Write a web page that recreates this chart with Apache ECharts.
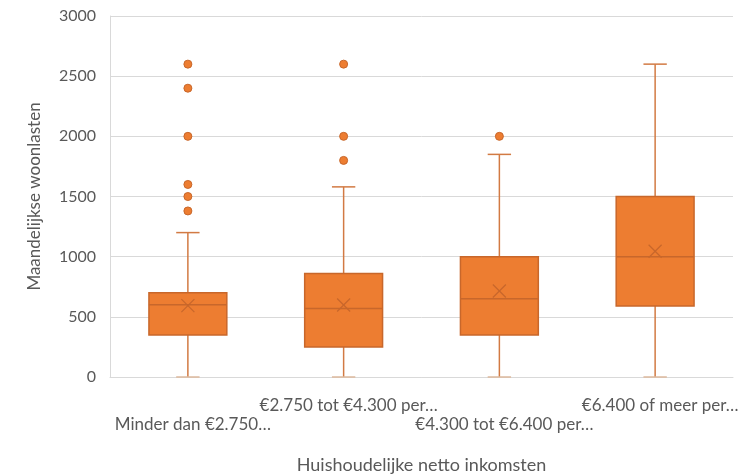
<!DOCTYPE html>
<html>
<head>
<meta charset="utf-8">
<script src="https://cdn.jsdelivr.net/npm/echarts@6/dist/echarts.min.js"></script>
<style>html,body{margin:0;padding:0;background:#fff;}#chart{width:756px;height:475px;}</style>
</head>
<body>
<div id="chart"></div>
<script>
const categories = ['Minder dan €2.750…', '€2.750 tot €4.300 per…', '€4.300 tot €6.400 per…', '€6.400 of meer per…'];
const minVals = [0, 0, 0, 0];
const q1Vals = [350, 250, 350, 590];
const medianVals = [600, 570, 650, 1000];
const q3Vals = [700, 860, 1000, 1500];
const maxVals = [1200, 1580, 1850, 2600];
const meanVals = [593, 598, 715, 1045];
const outliersByCategory = [
  [2600, 2400, 2000, 1600, 1500, 1380],
  [2600, 2000, 1800],
  [2000],
  []
];
const yTicks = { min: 0, max: 3000, interval: 500 };

const FILL = '#ED7D31';
const EDGE = '#C8672B';
const WHISK = '#D27A43';
const FONT = 'Lato';

const boxData = categories.map((c, i) => [i, minVals[i], q1Vals[i], medianVals[i], q3Vals[i], maxVals[i], meanVals[i]]);
const outlierData = [];
outliersByCategory.forEach((arr, i) => arr.forEach(v => outlierData.push([i, v])));

function renderBox(params, api) {
  const i = api.value(0);
  const band = api.size([1, 0])[0];
  const bw = band * 0.5;
  const cw = band * 0.15;
  const pMin = api.coord([i, api.value(1)]);
  const pQ1 = api.coord([i, api.value(2)]);
  const pMed = api.coord([i, api.value(3)]);
  const pQ3 = api.coord([i, api.value(4)]);
  const pMax = api.coord([i, api.value(5)]);
  const pMean = api.coord([i, api.value(6)]);
  const x = pMed[0];
  const ls = { stroke: WHISK, lineWidth: 1.5 };
  const m = 6.5;
  return {
    type: 'group',
    children: [
      { type: 'line', shape: { x1: x, y1: pMax[1], x2: x, y2: pQ3[1] }, style: ls },
      { type: 'line', shape: { x1: x, y1: pQ1[1], x2: x, y2: pMin[1] }, style: ls },
      { type: 'line', shape: { x1: x - cw / 2, y1: pMax[1], x2: x + cw / 2, y2: pMax[1] }, style: ls },
      { type: 'line', shape: { x1: x - cw / 2, y1: pMin[1], x2: x + cw / 2, y2: pMin[1] }, style: { stroke: '#DDB89C', lineWidth: 1.5 } },
      { type: 'rect', shape: { x: x - bw / 2, y: pQ3[1], width: bw, height: pQ1[1] - pQ3[1] }, style: { fill: FILL, stroke: EDGE, lineWidth: 1.5 } },
      { type: 'line', shape: { x1: x - bw / 2, y1: pMed[1], x2: x + bw / 2, y2: pMed[1] }, style: { stroke: EDGE, lineWidth: 1.5 } },
      { type: 'line', shape: { x1: x - m, y1: pMean[1] - m, x2: x + m, y2: pMean[1] + m }, style: { stroke: EDGE, lineWidth: 1.2 } },
      { type: 'line', shape: { x1: x - m, y1: pMean[1] + m, x2: x + m, y2: pMean[1] - m }, style: { stroke: EDGE, lineWidth: 1.2 } }
    ]
  };
}

const chart = echarts.init(document.getElementById('chart'), null, { renderer: 'canvas' });
chart.setOption({
  animation: false,
  backgroundColor: '#fff',
  grid: { left: 110, right: 23, top: 16, bottom: 98, containLabel: false, outerBoundsMode: 'none' },
  xAxis: {
    type: 'category',
    data: categories,
    axisLine: { lineStyle: { color: '#D9D9D9', width: 1 } },
    axisTick: { show: false },
    axisLabel: {
      interval: 0, color: '#595959', fontFamily: FONT, fontSize: 17, lineHeight: 19, margin: 19,
      padding: [0, 0, 0, 10],
      formatter: (v, i) => (i % 2 === 0 ? '\n' + v : v)
    },
    name: 'Huishoudelijke netto inkomsten',
    nameLocation: 'middle',
    nameGap: 79,
    nameTextStyle: { color: '#595959', fontFamily: FONT, fontSize: 18 }
  },
  yAxis: {
    type: 'value',
    min: yTicks.min, max: yTicks.max, interval: yTicks.interval,
    axisLine: { show: true, lineStyle: { color: '#D9D9D9' } },
    axisTick: { show: false },
    splitLine: { lineStyle: { color: '#D9D9D9' } },
    axisLabel: { color: '#595959', fontFamily: FONT, fontSize: 16, margin: 14, formatter: v => String(v) },
    name: 'Maandelijkse woonlasten',
    nameLocation: 'middle',
    nameGap: 67,
    nameRotate: 90,
    nameTextStyle: { color: '#595959', fontFamily: FONT, fontSize: 17 }
  },
  series: [
    { type: 'custom', renderItem: renderBox, data: boxData, encode: { x: 0, y: [1, 5] }, z: 3 },
    {
      type: 'scatter', data: outlierData, symbol: 'circle', symbolSize: 8,
      itemStyle: { color: FILL, borderColor: EDGE, borderWidth: 1, opacity: 1 }, z: 4
    }
  ]
});
</script>
</body>
</html>
